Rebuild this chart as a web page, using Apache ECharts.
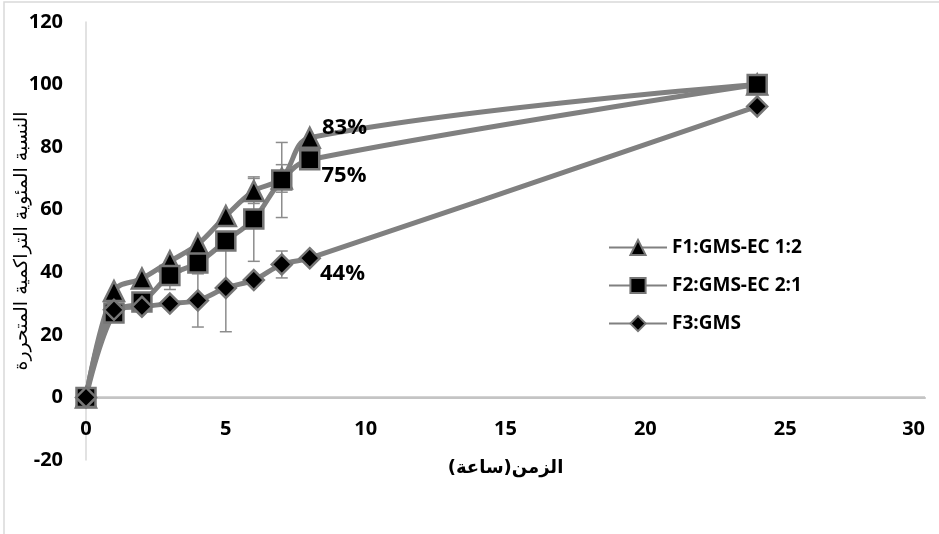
<!DOCTYPE html>
<html><head><meta charset="utf-8">
<script src="https://cdn.jsdelivr.net/npm/echarts@6/dist/echarts.min.js"></script>
<style>html,body{margin:0;padding:0;background:#fff}#c{width:939px;height:534px}</style>
</head><body><div id="c"></div>
<script>
const times = [0, 1, 2, 3, 4, 5, 6, 7, 8, 24];
const f1 = [0, 34, 38, 43.5, 49, 58, 66, 70, 83, 100];
const f2 = [0, 27, 30.5, 39, 43, 50, 57, 69.5, 76, 100];
const f3 = [0, 28, 29, 30, 31, 35, 37.5, 42.5, 44.5, 93];
const f1Err = [[6, 66, 4], [7, 70, 4.4]];
const f2Err = [[3, 39, 4.5], [6, 57, 13.5], [7, 69.5, 12]];
const f3Err = [[4, 31, 8.5], [5, 35, 14], [7, 42.5, 4.3]];
const endLabels = ['83%', '75%', '44%'];
const names = ['F1:GMS-EC 1:2', 'F2:GMS-EC 2:1', 'F3:GMS'];
const xTicks = {min: 0, max: 30, interval: 5};
const yTicks = {min: -20, max: 120, interval: 20};

const FONT = '"Open Sans", sans-serif';
const AR = '"DejaVu Sans", sans-serif';
const GRID = {left: 86, right: 14, top: 22, bottom: 74};
const H = 534;
const plotH = H - GRID.top - GRID.bottom;
const zeroOffset = -plotH * (0 - yTicks.min) / (yTicks.max - yTicks.min);

const chart = echarts.init(document.getElementById('c'), null, {renderer: 'canvas'});

function lineSeries(name, vals, symbol, size, labelText, labelOffset) {
  return {
    name, type: 'line', smooth: 0.35,
    data: times.map((t, i) => {
      const d = {value: [t, vals[i]]};
      if (i === 8) {
        d.label = {show: true, formatter: labelText, position: 'right', offset: labelOffset,
          fontFamily: FONT, fontWeight: 'bold', fontSize: 22, color: '#000'};
      }
      return d;
    }),
    symbol, symbolSize: size,
    lineStyle: {color: '#808080', width: 5},
    itemStyle: {color: '#000', borderColor: '#767676', borderWidth: 2.5},
    z: 3
  };
}

function errSeries(data) {
  return {
    type: 'custom', silent: true, z: 2,
    data,
    renderItem(params, api) {
      const x = api.value(0), y = api.value(1), e = api.value(2);
      const top = api.coord([x, y + e]);
      const bot = api.coord([x, y - e]);
      const w = 6;
      const st = {stroke: '#8c8c8c', lineWidth: 1.5};
      return {type: 'group', children: [
        {type: 'line', shape: {x1: top[0], y1: top[1], x2: bot[0], y2: bot[1]}, style: st},
        {type: 'line', shape: {x1: top[0]-w, y1: top[1], x2: top[0]+w, y2: top[1]}, style: st},
        {type: 'line', shape: {x1: bot[0]-w, y1: bot[1], x2: bot[0]+w, y2: bot[1]}, style: st}
      ]};
    }
  };
}

// horizontal axis line at y = 0, drawn through the axes' own scales
const zeroLine = {
  type: 'custom', silent: true, z: 1, clip: false,
  data: [[xTicks.min, xTicks.max, 0]],
  renderItem(params, api) {
    const a = api.coord([api.value(0), api.value(2)]);
    const b = api.coord([api.value(1), api.value(2)]);
    return {type: 'line', shape: {x1: a[0], y1: a[1], x2: b[0], y2: b[1]},
      style: {stroke: '#c4c4c4', lineWidth: 2.5}};
  }
};

chart.setOption({
  animation: false,
  backgroundColor: '#fff',
  graphic: [{type: 'rect', shape: {x: 4, y: 2, width: 1000, height: 600},
    style: {fill: 'none', stroke: '#d9d9d9', lineWidth: 1.5}, silent: true}],
  grid: Object.assign({containLabel: false, outerBoundsMode: 'none'}, GRID),
  legend: {
    orient: 'vertical', left: 603, top: 233, itemGap: 19,
    itemWidth: 58, itemHeight: 19,
    data: names,
    textStyle: {fontFamily: FONT, fontWeight: 'bold', fontSize: 19, color: '#000', padding: [0,0,0,0]}
  },
  xAxis: {
    type: 'value', min: xTicks.min, max: xTicks.max, interval: xTicks.interval,
    offset: zeroOffset,
    axisLine: {show: true, onZero: false, lineStyle: {color: '#c4c4c4', width: 2}},
    axisTick: {show: false},
    splitLine: {show: false},
    axisLabel: {fontFamily: FONT, fontWeight: 'bold', fontSize: 20, color: '#000', margin: 22,
      showMaxLabel: true, alignMaxLabel: 'right'},
    name: 'الزمن(ساعة)', nameLocation: 'middle', nameGap: 62, nameMoveOverlap: false,
    nameTextStyle: {fontFamily: AR, fontWeight: 'bold', fontSize: 18, color: '#000'}
  },
  yAxis: {
    type: 'value', min: yTicks.min, max: yTicks.max, interval: yTicks.interval,
    axisLine: {show: true, onZero: false, lineStyle: {color: '#d9d9d9', width: 1.5}},
    axisTick: {show: false},
    splitLine: {show: false},
    axisLabel: {fontFamily: FONT, fontWeight: 'bold', fontSize: 20, color: '#000', margin: 23},
    name: 'النسبة المئوية التراكمية المتحررة', nameLocation: 'middle', nameGap: 54, nameRotate: 90,
    nameMoveOverlap: false,
    nameTextStyle: {fontFamily: AR, fontSize: 19, color: '#000'}
  },
  series: [
    zeroLine,
    errSeries(f1Err), errSeries(f2Err), errSeries(f3Err),
    lineSeries(names[0], f1, 'triangle', 20, endLabels[0], [-4, -10]),
    lineSeries(names[1], f2, 'rect', 19, endLabels[1], [-4, 16]),
    lineSeries(names[2], f3, 'diamond', 20, endLabels[2], [-6, 16])
  ]
});
</script></body></html>
